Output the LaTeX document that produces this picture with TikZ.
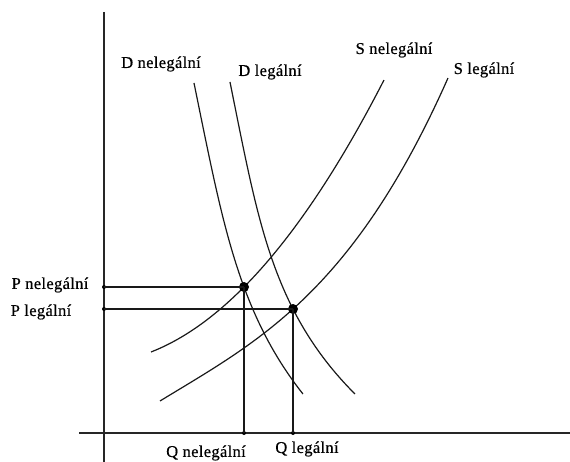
\documentclass[tikz,border=0pt]{standalone}
\usepackage{fontspec}
\setmainfont{Liberation Serif}[LetterSpace=2,FakeBold=0.5]
\begin{document}
\begin{tikzpicture}[x=1pt,y=-1pt,
  axis/.style={line width=1.7pt,black!85},
  curve/.style={line width=1.2pt,black!90},
  guide/.style={line width=1.2pt,black!90},
  bigdot/.style={circle,fill=black,inner sep=0pt,minimum size=10pt},
  smalldot/.style={circle,fill=black,inner sep=0pt,minimum size=4pt},
  lbl/.style={font=\fontsize{16.5}{19}\selectfont,inner sep=0pt}]
\useasboundingbox (0,0) rectangle (570,462);
% axes
\coordinate (Ytop) at (104,12);
\coordinate (Ybot) at (104,462);
\coordinate (Xl) at (79,433);
\coordinate (Xr) at (570,433);
\draw[axis] (Ytop) -- (Ybot);
\draw[axis] (Xl) -- (Xr);
% demand curves (x as a function of y)
\draw[curve] plot[domain=0:3.11,samples=60,variable=\s]
  ({194+20.36*\s+0.488*\s*\s*\s*\s},{83+100*\s});
\draw[curve] plot[domain=0:3.12,samples=60,variable=\s]
  ({230+20.03*\s+0.6595*\s*\s*\s*\s},{82+100*\s});
% supply curves (y as a function of x)
\draw[curve] plot[domain=0:2.33,samples=60,variable=\v]
  ({151+100*\v},{352-(38.96*\v+33.17*\v*\v+0.09*\v*\v*\v)});
\draw[curve] plot[domain=0:2.88,samples=60,variable=\v]
  ({160+100*\v},{401-(61.09*\v-3.93*\v*\v+7.52*\v*\v*\v)});
% equilibrium points
\node[bigdot] (E1) at (244,287) {};
\node[bigdot] (E2) at (293,309) {};
\node[smalldot] (P1) at (104,287) {};
\node[smalldot] (P2) at (104,309) {};
\node[smalldot] (Q1) at (244,433) {};
\node[smalldot] (Q2) at (293,433) {};
\draw[guide] (P1.center) -- (E1.center);
\draw[guide] (P2.center) -- (E2.center);
\draw[guide] (E1.center) -- (Q1.center);
\draw[guide] (E2.center) -- (Q2.center);
% labels
\node[lbl] (lDn) at (161,64) {D nelegální};
\node[lbl] (lDl) at (270,72) {D legální};
\node[lbl] (lSn) at (394,50) {S nelegální};
\node[lbl] (lSl) at (484,70) {S legální};
\node[lbl] (lPn) at (50,285) {P nelegální};
\node[lbl] (lPl) at (41,312) {P legální};
\node[lbl] (lQn) at (206,453) {Q nelegální};
\node[lbl] (lQl) at (307,449) {Q legální};
\end{tikzpicture}
\end{document}
